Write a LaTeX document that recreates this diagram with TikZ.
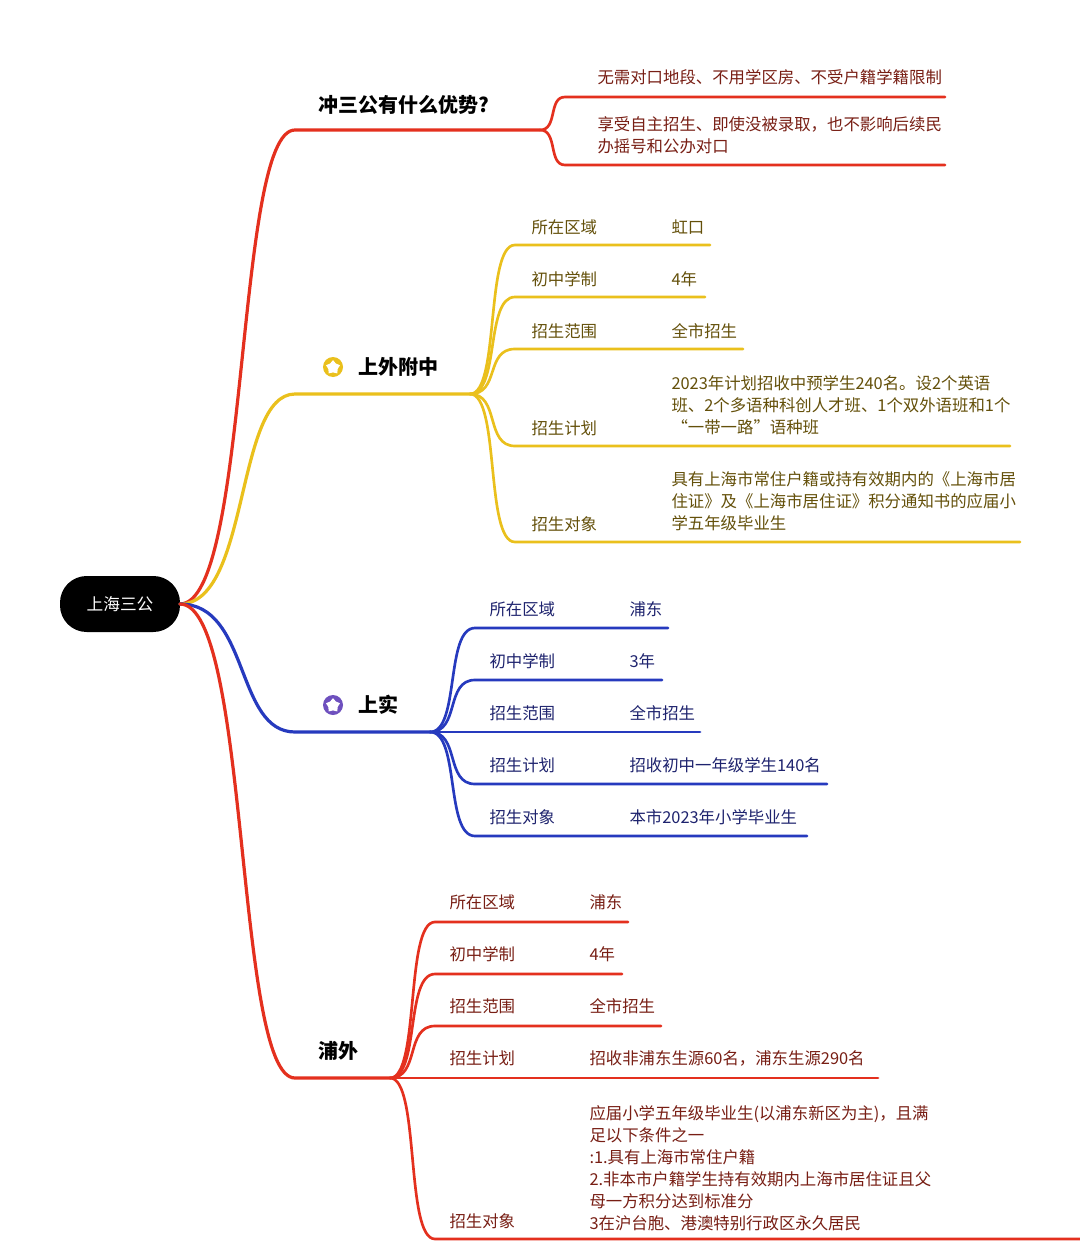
\documentclass[tikz,border=0pt]{standalone}
\usepackage{fontspec}
\setmainfont{Noto Sans CJK SC}
\usetikzlibrary{shapes.geometric}
\definecolor{cred}{RGB}{228,48,30}
\definecolor{cyel}{RGB}{234,192,28}
\definecolor{cblu}{RGB}{38,58,190}
\definecolor{tred}{RGB}{120,30,20}
\definecolor{tyel}{RGB}{100,80,10}
\definecolor{tblu}{RGB}{30,35,110}
\definecolor{cpur}{RGB}{110,80,190}
\tikzset{every picture/.style={line width=0.75pt}}
\tikzset{
  branch/.style={line width=2.4pt, line cap=round},
  twig/.style={line width=2pt, line cap=round},
  title/.style={anchor=west, inner sep=0pt, font=\fontsize{15}{18}\selectfont\bfseries},
  leaf/.style={anchor=west, inner sep=0pt, font=\fontsize{12.3}{16.5}\selectfont, align=left},
}
\begin{document}
\begin{tikzpicture}[x=0.75pt,y=0.75pt,yscale=-1,xscale=1]
\useasboundingbox (0,0) rectangle (1080,1241);
\fill[white] (0,0) rectangle (1080,1241);

% root
\node[fill=black, rounded corners=20pt, minimum width=90pt, minimum height=42pt, text=white, font=\fontsize{12.5}{15}\selectfont] (root) at (120,604) {上海三公};
\coordinate (rootE) at (180,604);

% branch 1
\coordinate (b1s) at (295,130); \coordinate (b1e) at (540,130);
\draw[branch, cred] (rootE) .. controls (250,604) and (235,130) .. (b1s) -- (b1e);
\node[title] (t1) at (318,105) {冲三公有什么优势?};
\coordinate (a1s) at (565,97); \coordinate (a1e) at (945,97);
\coordinate (a2s) at (565,165); \coordinate (a2e) at (945,165);
\draw[twig, cred] (b1e) .. controls (558,130) and (548,97) .. (a1s) -- (a1e);
\draw[twig, cred] (b1e) .. controls (558,130) and (548,165) .. (a2s) -- (a2e);
\node[leaf, text=tred] (a1) at (597,77) {无需对口地段、不用学区房、不受户籍学籍限制};
\node[leaf, text=tred] (a2) at (597,135) {享受自主招生、即使没被录取，也不影响后续民\\办摇号和公办对口};

% branch 2
\coordinate (b2s) at (295,394); \coordinate (b2e) at (470,394);
\draw[branch, cyel] (rootE) .. controls (250,604) and (235,394) .. (b2s) -- (b2e);
\fill[cyel] (333,367) circle (10);
\node[star, star points=5, fill=white, inner sep=0pt, minimum size=11pt] (s2) at (333,367.5) {};
\node[title] (t2) at (358,367) {上外附中};
\foreach \n/\y/\xe/\lab in {1/245/710/所在区域, 2/297/705/初中学制, 3/349/743/招生范围, 4/446/1010/招生计划, 5/542/1020/招生对象}{
  \coordinate (y\n s) at (515,\y); \coordinate (y\n e) at (\xe,\y);
  \draw[twig, cyel] (b2e) .. controls (500,394) and (485,\y) .. (y\n s) -- (y\n e);
  \node[leaf, text=tyel] (yl\n) at (531,\y-18) {\lab};
}
\node[leaf, text=tyel] (yv1) at (671,227) {虹口};
\node[leaf, text=tyel] (yv2) at (671,279) {4年};
\node[leaf, text=tyel] (yv3) at (671,331) {全市招生};
\node[leaf, text=tyel] (yv4) at (671,405) {2023年计划招收中预学生240名。设2个英语\\班、2个多语种科创人才班、1个双外语班和1个\\“一带一路”语种班};
\node[leaf, text=tyel] (yv5) at (671,501) {具有上海市常住户籍或持有效期内的《上海市居\\住证》及《上海市居住证》积分通知书的应届小\\学五年级毕业生};

% branch 3
\coordinate (b3s) at (295,732); \coordinate (b3e) at (430,732);
\draw[branch, cblu] (rootE) .. controls (250,604) and (235,732) .. (b3s) -- (b3e);
\fill[cpur] (333,705) circle (10);
\node[star, star points=5, fill=white, inner sep=0pt, minimum size=11pt] (s3) at (333,705.5) {};
\node[title] (t3) at (358,705) {上实};
\foreach \n/\y/\xe/\lab/\val in {1/628/668/所在区域/浦东, 2/680/662/初中学制/3年, 3/732/700/招生范围/全市招生, 4/784/827/招生计划/招收初中一年级学生140名, 5/836/807/招生对象/本市2023年小学毕业生}{
  \coordinate (u\n s) at (475,\y); \coordinate (u\n e) at (\xe,\y);
  \draw[twig, cblu] (b3e) .. controls (460,732) and (445,\y) .. (u\n s) -- (u\n e);
  \node[leaf, text=tblu] (ul\n) at (489,\y-19) {\lab};
  \node[leaf, text=tblu] (uv\n) at (629,\y-19) {\val};
}

% branch 4
\coordinate (b4s) at (295,1078); \coordinate (b4e) at (390,1078);
\draw[branch, cred] (rootE) .. controls (250,604) and (235,1078) .. (b4s) -- (b4e);
\node[title] (t4) at (318,1051) {浦外};
\foreach \n/\y/\xe/\lab/\val in {1/922/628/所在区域/浦东, 2/974/622/初中学制/4年, 3/1026/661/招生范围/全市招生, 4/1078/878/招生计划/招收非浦东生源60名，浦东生源290名}{
  \coordinate (r\n s) at (435,\y); \coordinate (r\n e) at (\xe,\y);
  \draw[twig, cred] (b4e) .. controls (420,1078) and (405,\y) .. (r\n s) -- (r\n e);
  \node[leaf, text=tred] (rl\n) at (449,\y-20) {\lab};
  \node[leaf, text=tred] (rv\n) at (589,\y-20) {\val};
}
\coordinate (r5s) at (435,1239); \coordinate (r5e) at (1080,1239);
\draw[twig, cred] (b4e) .. controls (420,1078) and (405,1239) .. (r5s) -- (r5e);
\node[leaf, text=tred] (rl5) at (449,1221) {招生对象};
\node[leaf, text=tred, anchor=south west] (rv5) at (589,1231) {应届小学五年级毕业生(以浦东新区为主)，且满\\足以下条件之一\\:1.具有上海市常住户籍\\2.非本市户籍学生持有效期内上海市居住证且父\\母一方积分达到标准分\\3在沪台胞、港澳特别行政区永久居民};
\end{tikzpicture}
\end{document}
